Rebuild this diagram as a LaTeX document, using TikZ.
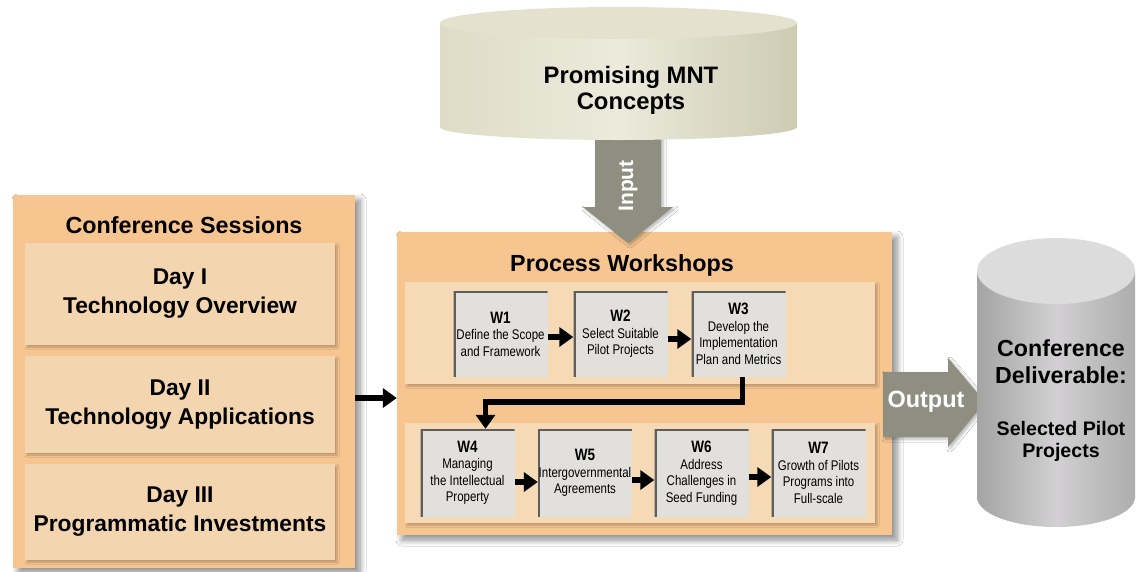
\documentclass[tikz,border=0pt]{standalone}
\usepackage{fontspec}
\setmainfont{Liberation Sans}
\newfontfamily\narrowfont[FakeStretch=0.82]{Liberation Sans}
\usetikzlibrary{shadows.blur,arrows.meta,calc}
\definecolor{orangeout}{HTML}{F7C690}
\definecolor{dayfill}{HTML}{F3D5B0}
\definecolor{bandfill}{HTML}{F6DAB6}
\definecolor{wfill}{HTML}{E2E0DD}
\definecolor{wedgecol}{HTML}{5E5E5E}
\definecolor{arrowgrey}{HTML}{8F8F81}
\definecolor{cylL}{HTML}{DEDCC6}
\definecolor{cylM}{HTML}{ECEBDC}
\definecolor{cylR}{HTML}{CDCBB2}
\definecolor{cylTop}{HTML}{E4E2CE}
\definecolor{gcylA}{HTML}{A4A4A4}
\definecolor{gcylB}{HTML}{D2D0D2}
\definecolor{gcylTop}{HTML}{DCDCDC}
\newcommand\wlab{\bfseries\fontsize{16.5}{17}\selectfont}
\begin{document}
\begin{tikzpicture}[x=1pt,y=-1pt,
  outerbox/.style={fill=orangeout, inner sep=0pt,
    blur shadow={shadow xshift=5pt, shadow yshift=-5pt, shadow blur radius=6pt, shadow blur steps=8, shadow opacity=45}},
  innerbox/.style={fill=dayfill, inner sep=0pt, align=center,
    blur shadow={shadow xshift=2pt, shadow yshift=-2pt, shadow blur radius=2pt, shadow opacity=25}},
  bandbox/.style={fill=bandfill, inner sep=0pt,
    blur shadow={shadow xshift=2pt, shadow yshift=-2pt, shadow blur radius=2pt, shadow opacity=25}},
  wbox/.style={fill=wfill, inner sep=0pt, minimum width=94pt, align=center,
    font=\narrowfont\fontsize{14}{16.5}\selectfont,
    path picture={\draw[line width=4pt, wedgecol]
      (path picture bounding box.south west) -- (path picture bounding box.north west)
      -- (path picture bounding box.north east);}},
  conn/.style={line width=5.5pt, -{Triangle[length=14pt,width=19pt]}},
  titlefont/.style={font=\bfseries\fontsize{23.3}{27}\selectfont},
  dayfont/.style={font=\bfseries\fontsize{22.8}{29}\selectfont},
  blockarrow/.style={fill=arrowgrey,
    blur shadow={shadow xshift=2pt, shadow yshift=-2pt, shadow blur radius=3pt, shadow opacity=30}}
]
\useasboundingbox[fill=white] (0,0) rectangle (1137,571);

% ---------- Conference Sessions ----------
\node[outerbox, minimum width=342pt, minimum height=373pt] (cs) at (184,381.5) {};
\node[titlefont] (cstitle) at (184,225) {Conference Sessions};
\node[innerbox, dayfont, minimum width=310pt, minimum height=102pt] (d1) at (180,294) {Day I\\Technology Overview};
\node[innerbox, dayfont, minimum width=310pt, minimum height=97pt] (d2) at (180,404.5) {Day II\\Technology Applications};
\node[innerbox, dayfont, minimum width=310pt, minimum height=96pt] (d3) at (180,512) {Day III\\Programmatic Investments};

% ---------- Process Workshops ----------
\node[outerbox, minimum width=495pt, minimum height=303pt] (pw) at (644.5,383.5) {};
\node[titlefont] (pwtitle) at (622,265) {Process Workshops};
\node[bandbox, minimum width=470pt, minimum height=102pt] (band1) at (640,333) {};
\node[bandbox, minimum width=470pt, minimum height=100pt] (band2) at (640,473) {};

\node[wbox, minimum height=86pt] (w1) at (500.5,334) {{\wlab W1}\\Define the Scope\\and Framework};
\node[wbox, minimum height=86pt] (w2) at (620.5,334) {{\wlab W2}\\Select Suitable\\Pilot Projects};
\node[wbox, minimum height=86pt] (w3) at (738.5,334) {{\wlab W3}\\Develop the\\Implementation\\Plan and Metrics};
\node[wbox, minimum height=88pt] (w4) at (467.5,473) {{\wlab W4}\\Managing\\the Intellectual\\Property};
\node[wbox, minimum height=88pt] (w5) at (585,473) {{\wlab W5}\\Intergovernmental\\Agreements};
\node[wbox, minimum height=88pt] (w6) at (701.5,473) {{\wlab W6}\\Address\\Challenges in\\Seed Funding};
\node[wbox, minimum height=88pt] (w7) at (818.5,473) {{\wlab W7}\\Growth of Pilots\\Programs into\\Full-scale};

\draw[conn] ([yshift=-3pt]w1.east) -- ([yshift=-3pt]w2.west);
\draw[conn] ([yshift=-5pt]w2.east) -- ([yshift=-5pt]w3.west);
\draw[conn] ([xshift=4pt]w3.south) -- ++(0,25) -| ([xshift=18pt]w4.north);
\draw[conn] ([yshift=-9pt]w4.east) -- ([yshift=-9pt]w5.west);
\draw[conn] ([yshift=-7pt]w5.east) -- ([yshift=-7pt]w6.west);
\draw[conn] ([yshift=-4pt]w6.east) -- ([yshift=-4pt]w7.west);

\draw[conn] ([yshift=-16.5pt]cs.east) -- ([yshift=-16.5pt]cs.east -| pw.west);

% ---------- Input arrow ----------
\path[blockarrow] (595,130) -- (661,130) -- (661,207) -- (673,207) -- (628,243)
  -- (583,207) -- (595,207) -- cycle;
\node[rotate=90, text=white, font=\bfseries\fontsize{21}{21}\selectfont] (inlab) at (628,186) {Input};

% ---------- Top cylinder ----------
\shade[left color=cylL, right color=cylR, middle color=cylM]
  (440,23) rectangle (797,127);
\shade[left color=cylL, right color=cylR, middle color=cylM]
  (618.5,127) ellipse [x radius=178.5, y radius=13];
\fill[cylTop] (618.5,23) ellipse [x radius=178.5, y radius=16];
\node[font=\bfseries\fontsize{23.8}{26}\selectfont, align=center] (mnt) at (631,90) {Promising MNT\\Concepts};

% ---------- Output arrow ----------
\path[blockarrow] (883,372) -- (948,372) -- (948,358) -- (985,402) -- (948,447)
  -- (948,437) -- (883,437) -- cycle;
\node[text=white, font=\bfseries\fontsize{23.5}{23}\selectfont] (outlab) at (926,402) {Output};

% ---------- Right cylinder ----------
\shade[left color=gcylA, right color=gcylA!90!white, middle color=gcylB]
  (977,271) rectangle (1135,497);
\shade[left color=gcylA, right color=gcylA!90!white, middle color=gcylB]
  (1056,497) ellipse [x radius=79, y radius=30];
\fill[gcylTop] (1056,271) ellipse [x radius=79, y radius=33];
\node[font=\bfseries\fontsize{23.2}{27}\selectfont, align=center] (deliv) at (1061,361.5) {Conference\\Deliverable:};
\node[font=\bfseries\fontsize{19.6}{22}\selectfont, align=center] (sel) at (1061,441) {Selected Pilot\\Projects};
\end{tikzpicture}
\end{document}
